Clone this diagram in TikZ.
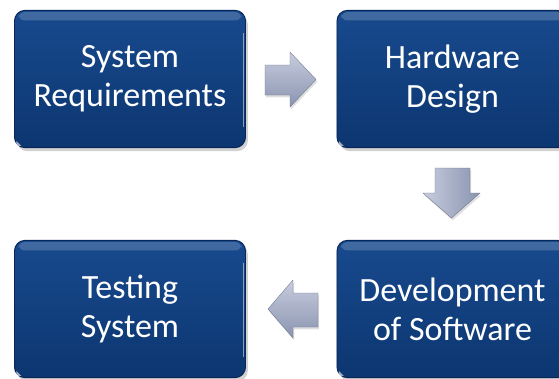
\documentclass[tikz,border=0pt]{standalone}
\usepackage{fontspec}
\setmainfont{Carlito}
\usetikzlibrary{shadows}
\usetikzlibrary{positioning}

\definecolor{boxtop}{RGB}{24,74,142}
\definecolor{boxbot}{RGB}{12,54,112}
\definecolor{boxline}{RGB}{8,38,86}
\definecolor{arrtop}{RGB}{200,205,222}
\definecolor{arrbot}{RGB}{138,148,176}

\tikzset{
  stagebox/.style={rectangle, rounded corners=9pt, minimum width=6.93cm, minimum height=4.12cm,
    top color=boxtop, bottom color=boxbot, draw=boxline, line width=0.8pt,
    text=white, align=center, font=\fontsize{29}{33}\selectfont,
    drop shadow={opacity=0.35, shadow xshift=2pt, shadow yshift=-3pt}},
  blockarrow/.style={draw=arrbot!80!black, line width=0.3pt,
    drop shadow={opacity=0.25, shadow xshift=1pt, shadow yshift=-2pt}},
  gloss/.style={white, opacity=0.18}
}

\begin{document}
\begin{tikzpicture}[x=0.03cm,y=-0.03cm]
\useasboundingbox (0,0) rectangle (559,378);
\clip (0,0) rectangle (559,378);
\fill[white] (0,0) rectangle (559,378);

% stages
\node[stagebox] (req) at (130,79) {System\\Requirements};
\node[stagebox] (hw) at (452.5,79) {Hardware\\Design};
\node[stagebox] (sw) at (452.5,309) {Development\\of Software};
\node[stagebox] (test) at (130,309) {Testing\\System};

% gloss bands
\foreach \b in {req,hw,sw,test}{
  \fill[gloss, rounded corners=5pt] ([xshift=4pt,yshift=-2pt]\b.north west) rectangle ([xshift=-4pt,yshift=-9pt]\b.north east);
  \draw[white, opacity=0.5, line width=1pt] ([xshift=-2pt,yshift=-20pt]\b.north east) -- ([xshift=-2pt,yshift=18pt]\b.south east);
  \fill[white, opacity=0.6] ([xshift=2pt,yshift=2pt]\b.south west) -- ++(4pt,0) -- ++(-4pt,4pt) -- cycle;
}

% block arrows
\draw[blockarrow, top color=arrtop, bottom color=arrbot]
  (265,65) -- (290,65) -- (290,52) -- (316,79.5) -- (290,107) -- (290,95) -- (265,95) -- cycle;
\draw[blockarrow, left color=arrtop, right color=arrbot]
  (435,168) -- (470,168) -- (470,193) -- (480,193) -- (451.5,218) -- (423,193) -- (435,193) -- cycle;
\draw[blockarrow, top color=arrtop, bottom color=arrbot]
  (318,293) -- (293,293) -- (293,280) -- (268,309) -- (293,338) -- (293,327) -- (318,327) -- cycle;

\end{tikzpicture}
\end{document}
